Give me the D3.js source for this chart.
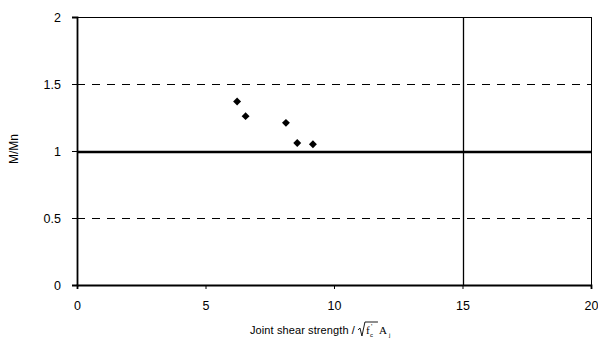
<!DOCTYPE html>
<html>
<head>
<meta charset="utf-8">
<script src="https://cdn.jsdelivr.net/npm/d3@7"></script>
<style>
  body { margin: 0; background: #fff; }
  text { font-family: "Liberation Sans", Arial, sans-serif; fill: #000; }
</style>
</head>
<body>
<svg id="chart" width="598" height="343"></svg>
<script>
// data
const shearX = [6.23, 6.56, 8.13, 8.57, 9.18];
const ratioY = [1.37, 1.26, 1.21, 1.06, 1.05];
const xTicks = [0, 5, 10, 15, 20];
const yTicks = [0, 0.5, 1, 1.5, 2];
const dashedLevels = [0.5, 1.5];

const svg = d3.select("#chart");
const padL = 77, padR = 591, padT = 17, padB = 285;

const x = d3.scaleLinear().domain([0, 20]).range([padL, padR]);
const y = d3.scaleLinear().domain([0, 2]).range([padB, padT]);

// frame (top and right thin)
svg.append("rect")
    .attr("x", padL + 0.5).attr("y", padT + 0.5)
    .attr("width", padR - padL).attr("height", padB - padT)
    .attr("fill", "none").attr("stroke", "#000").attr("stroke-width", 1);

// dashed gridlines
svg.selectAll(".dash")
    .data(dashedLevels)
    .enter().append("line")
    .attr("x1", padL).attr("x2", padR)
    .attr("y1", d => Math.round(y(d)) + 0.5).attr("y2", d => Math.round(y(d)) + 0.5)
    .attr("stroke", "#000").attr("stroke-width", 1)
    .attr("stroke-dasharray", "8,7");

// vertical line at 15
svg.append("line")
    .attr("x1", Math.round(x(15)) + 0.5).attr("x2", Math.round(x(15)) + 0.5)
    .attr("y1", padT).attr("y2", padB)
    .attr("stroke", "#000").attr("stroke-width", 1.3);

// thick line at 1
svg.append("line")
    .attr("x1", padL).attr("x2", padR)
    .attr("y1", y(1) + 1).attr("y2", y(1) + 1)
    .attr("stroke", "#000").attr("stroke-width", 2.5);

// axes
const xAxis = d3.axisBottom(x).tickValues(xTicks).tickSize(4).tickPadding(12)
    .tickFormat(d3.format("~g"));
const yAxis = d3.axisLeft(y).tickValues(yTicks).tickSize(5).tickPadding(11)
    .tickFormat(d3.format("~g"));

const gx = svg.append("g").attr("transform", `translate(0,${padB})`).call(xAxis);
const gy = svg.append("g").attr("transform", `translate(${padL},0)`).call(yAxis);
[gx, gy].forEach(g => {
    g.select(".domain").attr("stroke-width", 1.8);
    g.selectAll("text").style("font-size", "12.5px").attr("fill", "#000");
});

// points
svg.selectAll(".pt")
    .data(shearX)
    .enter().append("path")
    .attr("d", d3.symbol(d3.symbolDiamond2, 40))
    .attr("transform", (d, i) => `translate(${x(d)},${y(ratioY[i])})`)
    .attr("fill", "#000");

// y label
svg.append("text")
    .attr("transform", "translate(18,149) rotate(-90)")
    .attr("text-anchor", "middle")
    .style("font-size", "12px")
    .text("M/Mn");

// x label
const xl = svg.append("text")
    .attr("x", 250).attr("y", 334)
    .style("font-size", "11px")
    .style("letter-spacing", "0.1px")
    .text("Joint shear strength / ");
const xEnd = 250 + xl.node().getComputedTextLength() + 3;
// sqrt sign
svg.append("path")
    .attr("d", `M${xEnd},330 L${xEnd + 2},328 L${xEnd + 4},336 L${xEnd + 7},322 L${xEnd + 20},322`)
    .attr("fill", "none").attr("stroke", "#000").attr("stroke-width", 0.9);
svg.append("text")
    .attr("x", xEnd + 8).attr("y", 334)
    .style("font-family", "'Liberation Serif', serif")
    .style("font-size", "11px")
    .text("f");
svg.append("text")
    .attr("x", xEnd + 13).attr("y", 329)
    .style("font-size", "7px")
    .text("'");
svg.append("text")
    .attr("x", xEnd + 12).attr("y", 337)
    .style("font-size", "6px")
    .text("c");
svg.append("text")
    .attr("x", xEnd + 21).attr("y", 334)
    .style("font-family", "'Liberation Serif', serif")
    .style("font-size", "11px")
    .text("A");
svg.append("text")
    .attr("x", xEnd + 31).attr("y", 337)
    .style("font-size", "6px")
    .text("j");
</script>
</body>
</html>
